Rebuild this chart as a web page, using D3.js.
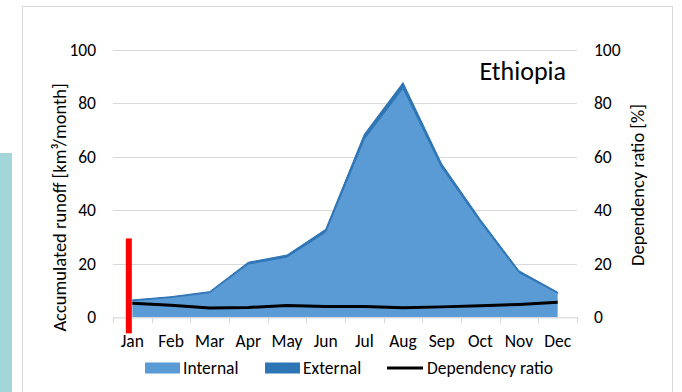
<!DOCTYPE html>
<html>
<head>
<meta charset="utf-8">
<script src="https://cdn.jsdelivr.net/npm/d3@7"></script>
<style>
  html, body { margin: 0; padding: 0; background: #fff; }
  svg { display: block; }
  text { font-family: Carlito, "Open Sans", sans-serif; fill: #000; }
</style>
</head>
<body>
<svg id="chart" width="682" height="392"></svg>
<script>
// Monthly runoff for Ethiopia (km3/month) and dependency ratio (%)
const months = ["Jan","Feb","Mar","Apr","May","Jun","Jul","Aug","Sep","Oct","Nov","Dec"];
const internal = [6.2, 7.4, 9.2, 19.9, 22.5, 31.8, 66.6, 85.6, 56.0, 35.6, 16.7, 9.0];
const external = [0.3, 0.3, 0.4, 0.7, 0.8, 1.1, 1.9, 2.2, 1.4, 1.0, 0.7, 0.4];
const dependency = [5.3, 4.5, 3.5, 3.7, 4.4, 4.0, 4.0, 3.6, 3.9, 4.3, 4.8, 5.6];
const leftTicks = [0, 20, 40, 60, 80, 100];
const rightTicks = [0, 20, 40, 60, 80, 100];
const country = "Ethiopia";
// current-month marker (from -6 to 29.5 on the runoff axis)
const markerMonth = "Jan";
const markerRange = [-6, 29.5];

const svg = d3.select("#chart");
const W = 682, H = 392;
const plot = { left: 113, right: 577, top: 50, bottom: 317.3 };
const fs = 17.5;

// page decoration: side strip and chart frame
svg.append("rect").attr("x", 0).attr("y", 153).attr("width", 12).attr("height", H - 153)
  .attr("fill", "#a3d6d9");
svg.append("rect").attr("x", 22.5).attr("y", 6.5).attr("width", 650).attr("height", 400)
  .attr("fill", "#fff").attr("stroke", "#d9d9d9").attr("stroke-width", 1);

const x = d3.scaleBand().domain(months).range([plot.left, plot.right]);
const xc = m => x(m) + x.bandwidth() / 2;
const y = d3.scaleLinear().domain([0, 100]).range([plot.bottom, plot.top]);
const y2 = d3.scaleLinear().domain([0, 100]).range([plot.bottom, plot.top]);

// gridlines
svg.append("g").selectAll("line").data(leftTicks.filter(d => d > 0)).join("line")
  .attr("x1", plot.left).attr("x2", plot.right)
  .attr("y1", d => Math.round(y(d)) + 0.5).attr("y2", d => Math.round(y(d)) + 0.5)
  .attr("stroke", "#d9d9d9").attr("stroke-width", 1.2);

// stacked areas
const rows = months.map((m, i) => ({ month: m, Internal: internal[i], External: external[i] }));
const stack = d3.stack().keys(["Internal", "External"]);
const series = stack(rows);
const colors = { Internal: "#5b9bd5", External: "#2e75b6" };
const area = d3.area()
  .x(d => xc(d.data.month))
  .y0(d => y(d[0]))
  .y1(d => y(d[1]));
svg.append("g").selectAll("path").data(series).join("path")
  .attr("d", area)
  .attr("fill", d => colors[d.key])
  .attr("stroke", d => d.key === "External" ? colors.External : "none")
  .attr("stroke-width", 1)
  .attr("stroke-linejoin", "round");

// x axis baseline and ticks
const xAxis = svg.append("g");
xAxis.append("line").attr("x1", plot.left).attr("x2", plot.right)
  .attr("y1", plot.bottom + 0.5).attr("y2", plot.bottom + 0.5)
  .attr("stroke", "#d9d9d9").attr("stroke-width", 1.2);
const tickXs = months.map(m => x(m)).concat([x(months[months.length - 1]) + x.bandwidth()]);
xAxis.selectAll("line.tick").data(tickXs).join("line").attr("class", "tick")
  .attr("x1", d => Math.round(d) + 0.5).attr("x2", d => Math.round(d) + 0.5)
  .attr("y1", plot.bottom).attr("y2", plot.bottom + 6)
  .attr("stroke", "#d9d9d9").attr("stroke-width", 1.2);
xAxis.selectAll("text").data(months).join("text")
  .attr("x", d => xc(d)).attr("y", 347)
  .attr("text-anchor", "middle").attr("font-size", fs)
  .text(d => d);

// dependency ratio line
const line = d3.line().x((d, i) => xc(months[i])).y(d => y2(d));
svg.append("path").datum(dependency).attr("d", line)
  .attr("fill", "none").attr("stroke", "#000").attr("stroke-width", 3)
  .attr("stroke-linejoin", "round");

// current-month marker
svg.append("rect")
  .attr("x", xc(markerMonth) - 6.5).attr("width", 6)
  .attr("y", y(markerRange[1])).attr("height", y(markerRange[0]) - y(markerRange[1]))
  .attr("fill", "#ff0000");

// y tick labels
svg.append("g").selectAll("text").data(leftTicks).join("text")
  .attr("x", 96).attr("y", d => y(d) + 6)
  .attr("text-anchor", "end").attr("font-size", fs)
  .text(d => d);
svg.append("g").selectAll("text").data(rightTicks).join("text")
  .attr("x", 594).attr("y", d => y2(d) + 6)
  .attr("text-anchor", "start").attr("font-size", fs)
  .text(d => d);

// axis titles
svg.append("text")
  .attr("transform", "translate(66,207.5) rotate(-90)")
  .attr("text-anchor", "middle").attr("font-size", 18.5)
  .text("Accumulated runoff [km³/month]");
svg.append("text")
  .attr("transform", "translate(644,185) rotate(-90)")
  .attr("text-anchor", "middle").attr("font-size", 18.5)
  .text("Dependency ratio [%]");

// country title
svg.append("text").attr("x", 566).attr("y", 80)
  .attr("text-anchor", "end").attr("font-size", 26)
  .text(country);

// legend
const legendItems = [
  { label: "Internal", type: "box", color: colors.Internal, x: 145 },
  { label: "External", type: "box", color: colors.External, x: 265 },
  { label: "Dependency ratio", type: "line", color: "#000", x: 387 }
];
const lg = svg.append("g").selectAll("g").data(legendItems).join("g")
  .attr("transform", d => `translate(${d.x},0)`);
lg.filter(d => d.type === "box").append("rect")
  .attr("x", 0).attr("y", 362.5).attr("width", 35).attr("height", 11)
  .attr("fill", d => d.color);
lg.filter(d => d.type === "line").append("line")
  .attr("x1", 0).attr("x2", 36).attr("y1", 368).attr("y2", 368)
  .attr("stroke", d => d.color).attr("stroke-width", 3);
lg.append("text").attr("x", d => d.type === "box" ? 38 : 40).attr("y", 374)
  .attr("font-size", fs).text(d => d.label);
</script>
</body>
</html>
